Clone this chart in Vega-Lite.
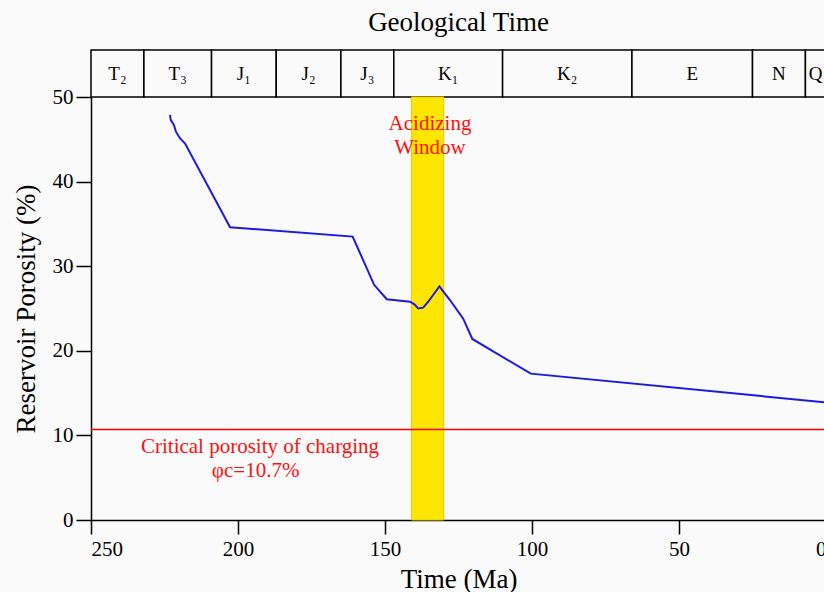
{
  "$schema": "https://vega.github.io/schema/vega-lite/v6.json",
  "background": "#fafafa",
  "padding": {"left": 12, "top": 9, "right": 0, "bottom": 0},
  "spacing": 0,
  "bounds": "flush",
  "config": {
    "font": "Liberation Serif",
    "view": {"stroke": null},
    "concat": {"spacing": 0}
  },
  "resolve": {"scale": {"x": "shared"}},
  "vconcat": [
    {
      "width": 735,
      "height": 47,
      "title": {"text": "Geological Time", "fontSize": 27, "fontWeight": "normal", "font": "Liberation Serif", "color": "black", "offset": 12},
      "data": {"values": [
        {"period": "T₂", "start": 250, "end": 232, "mid": 241},
        {"period": "T₃", "start": 232, "end": 209, "mid": 220.5},
        {"period": "J₁", "start": 209, "end": 187, "mid": 198},
        {"period": "J₂", "start": 187, "end": 165, "mid": 176},
        {"period": "J₃", "start": 165, "end": 147, "mid": 156},
        {"period": "K₁", "start": 147, "end": 110, "mid": 128.5},
        {"period": "K₂", "start": 110, "end": 66, "mid": 88},
        {"period": "E", "start": 66, "end": 25, "mid": 45.5},
        {"period": "N", "start": 25, "end": 7, "mid": 16},
        {"period": "Q", "start": 7, "end": 0, "mid": 3.5}
      ]},
      "layer": [
        {
          "mark": {"type": "rect", "fill": "#fafafa", "stroke": "black", "strokeWidth": 1.5},
          "encoding": {
            "x": {"field": "start", "type": "quantitative", "scale": {"domain": [0, 250], "reverse": true, "nice": false}, "axis": null},
            "x2": {"field": "end"}
          }
        },
        {
          "mark": {"type": "text", "fontSize": 19, "color": "black", "font": "Liberation Serif"},
          "encoding": {
            "x": {"field": "mid", "type": "quantitative", "axis": null},
            "text": {"field": "period"}
          }
        }
      ]
    },
    {
      "width": 735,
      "height": 423,
      "layer": [
        {
          "data": {"values": [{"from": 141, "to": 130, "lo": 0, "hi": 50}]},
          "mark": {"type": "rect", "fill": "#ffe600", "stroke": "#e8c800", "strokeWidth": 1},
          "encoding": {
            "x": {"field": "from", "type": "quantitative"},
            "x2": {"field": "to"},
            "y": {"field": "lo", "type": "quantitative"},
            "y2": {"field": "hi"}
          }
        },
        {
          "data": {"values": [{"level": 10.7}]},
          "mark": {"type": "rule", "color": "#ff0000", "strokeWidth": 1.5},
          "encoding": {
            "y": {"field": "level", "type": "quantitative"}
          }
        },
        {
          "data": {"values": [
            {"time": 223.1, "porosity": 47.9},
            {"time": 222.9, "porosity": 47.3},
            {"time": 221.8, "porosity": 46.7},
            {"time": 221.1, "porosity": 45.9},
            {"time": 219.7, "porosity": 45.1},
            {"time": 218.0, "porosity": 44.5},
            {"time": 202.7, "porosity": 34.6},
            {"time": 161.0, "porosity": 33.5},
            {"time": 153.7, "porosity": 27.8},
            {"time": 149.4, "porosity": 26.1},
            {"time": 141.5, "porosity": 25.8},
            {"time": 140.0, "porosity": 25.5},
            {"time": 138.7, "porosity": 25.0},
            {"time": 137.0, "porosity": 25.1},
            {"time": 135.3, "porosity": 25.8},
            {"time": 131.5, "porosity": 27.6},
            {"time": 127.9, "porosity": 26.0},
            {"time": 123.4, "porosity": 23.8},
            {"time": 120.3, "porosity": 21.4},
            {"time": 100.4, "porosity": 17.3},
            {"time": 0, "porosity": 13.9}
          ]},
          "mark": {"type": "line", "color": "#1a1ae0", "strokeWidth": 2},
          "encoding": {
            "x": {"field": "time", "type": "quantitative"},
            "y": {"field": "porosity", "type": "quantitative"}
          }
        },
        {
          "data": {"values": [
            {"t": 134.7, "v": 46.8, "label": "Acidizing"},
            {"t": 134.7, "v": 44.0, "label": "Window"}
          ]},
          "mark": {"type": "text", "color": "#ff1010", "fontSize": 21, "font": "Liberation Serif"},
          "encoding": {
            "x": {"field": "t", "type": "quantitative"},
            "y": {"field": "v", "type": "quantitative"},
            "text": {"field": "label"}
          }
        },
        {
          "data": {"values": [
            {"t": 192.5, "v": 8.6, "label": "Critical porosity of charging"},
            {"t": 194, "v": 5.8, "label": "φc=10.7%"}
          ]},
          "mark": {"type": "text", "color": "#ff1010", "fontSize": 21, "font": "Liberation Serif"},
          "encoding": {
            "x": {"field": "t", "type": "quantitative"},
            "y": {"field": "v", "type": "quantitative"},
            "text": {"field": "label"}
          }
        }
      ],
      "encoding": {
        "x": {
          "type": "quantitative",
          "scale": {"domain": [0, 250], "reverse": true, "nice": false},
          "axis": {"title": "Time (Ma)", "values": [250, 200, 150, 100, 50, 0], "grid": false, "domainColor": "black", "domainWidth": 1.5, "tickColor": "black", "tickWidth": 1.5, "tickSize": 14, "labelFontSize": 21, "labelColor": "black", "labelFont": "Liberation Serif", "labelPadding": 4, "titleFontSize": 27, "titleFontWeight": "normal", "titleColor": "black", "titleFont": "Liberation Serif", "titlePadding": 7}
        },
        "y": {
          "type": "quantitative",
          "scale": {"domain": [0, 50], "nice": false},
          "axis": {"title": "Reservoir Porosity (%)", "values": [0, 10, 20, 30, 40, 50], "grid": false, "domainColor": "black", "domainWidth": 1.5, "tickColor": "black", "tickWidth": 1.5, "tickSize": 15, "labelFontSize": 21, "labelColor": "black", "labelFont": "Liberation Serif", "labelPadding": 3, "titleFontSize": 27, "titleFontWeight": "normal", "titleColor": "black", "titleFont": "Liberation Serif", "titlePadding": 12}
        }
      }
    }
  ]
}
